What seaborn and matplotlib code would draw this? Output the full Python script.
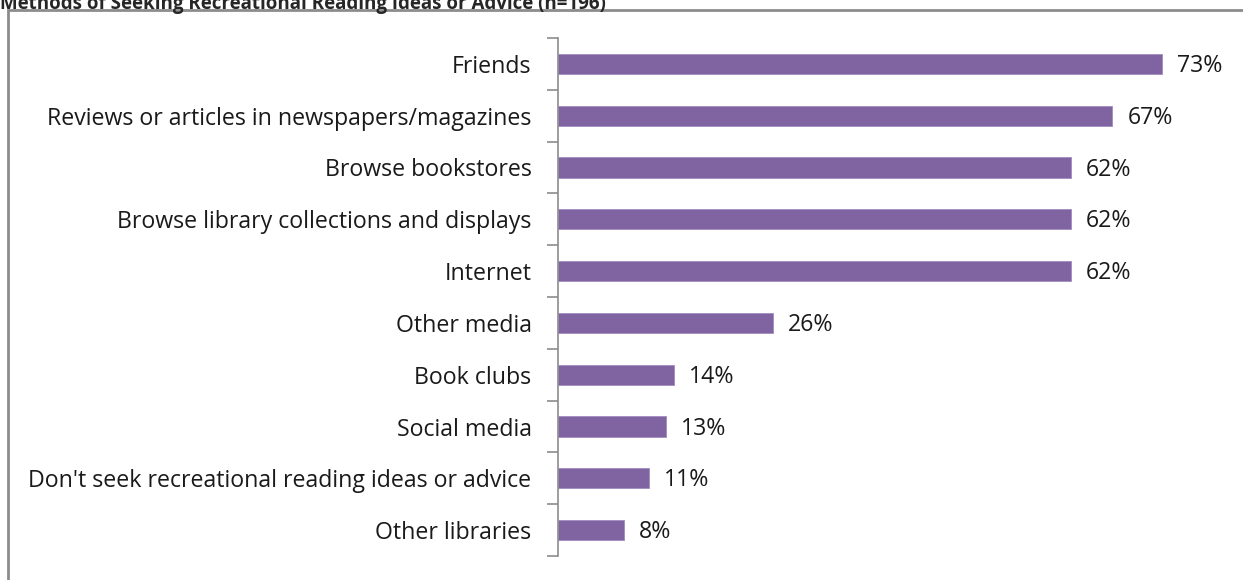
import matplotlib
matplotlib.use("Agg")
import matplotlib.pyplot as plt
import seaborn as sns
import pandas as pd
from matplotlib.patches import Rectangle
from matplotlib.ticker import FixedLocator

categories = ["Friends", "Reviews or articles in newspapers/magazines", "Browse bookstores",
              "Browse library collections and displays", "Internet", "Other media",
              "Book clubs", "Social media", "Don't seek recreational reading ideas or advice",
              "Other libraries"]
values = [73, 67, 62, 62, 62, 26, 14, 13, 11, 8]
title = "Methods of Seeking Recreational Reading Ideas or Advice (n=196)"

sns.set_style("white")
plt.rcParams['font.family'] = ['Open Sans', 'DejaVu Sans']

df = pd.DataFrame({"cat": categories, "val": values})
fig = plt.figure(figsize=(12.43, 5.8), dpi=100)
ax = fig.add_axes([558/1243, (580-556)/580, (1220-558)/1243, (556-38)/580])
sns.barplot(data=df, x="val", y="cat", orient="h", color="#8064A2", saturation=1,
            width=0.39, edgecolor="#A08CC0", linewidth=0.6, ax=ax)
ax.set_xlim(0, 80)
ax.set_ylim(len(categories) - 0.5, -0.5)
for s in ["top", "right", "bottom"]:
    ax.spines[s].set_visible(False)
ax.spines["left"].set_color("#8c8c8c")
ax.spines["left"].set_linewidth(1.2)
ax.set_xticks([])
ax.set_xlabel("")
ax.set_ylabel("")
ax.yaxis.set_minor_locator(FixedLocator([i - 0.5 for i in range(len(categories) + 1)]))
ax.tick_params(axis="y", which="minor", length=8, width=1.2, color="#8c8c8c", direction="out", left=True)
ax.tick_params(axis="y", which="major", length=0, pad=19, labelsize=16.7, labelcolor="#1a1a1a")
for i, v in enumerate(values):
    ax.text(v + 1.8, i + 0.04, f"{v}%", va="center", ha="left", fontsize=16.7, color="#1a1a1a")

fig.text(0.0, 1.0 - 4/580, title, fontsize=13.5, fontweight="bold", ha="left", va="center")
fig.patches.append(Rectangle((8/1243, -0.1), 1.2, (580 - 10)/580 + 0.1, transform=fig.transFigure,
                             fill=False, edgecolor="#8c8c8c", linewidth=2))
fig.savefig("out.png", dpi=100)
